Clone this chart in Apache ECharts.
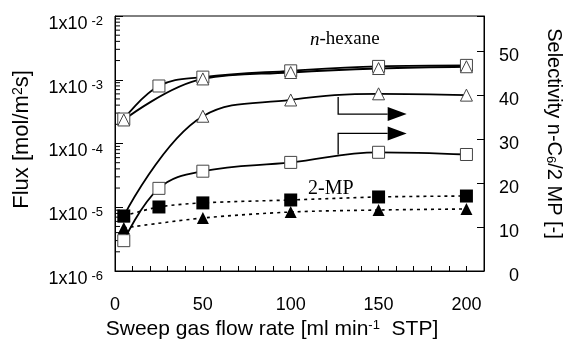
<!DOCTYPE html>
<html><head><meta charset="utf-8">
<script src="https://cdn.jsdelivr.net/npm/echarts@6/dist/echarts.min.js"></script>
<style>html,body{margin:0;padding:0;background:#fff}#c{width:571px;height:340px}</style>
</head><body><div id="c"></div>
<script>
// ---- data ----
const flowSquares   = [5, 25, 50, 100, 150, 200];
const flowTriangles = [5, 50, 100, 150, 200];
const hexFluxSq  = [2.42e-4, 7.98e-4, 1.10e-3, 1.38e-3, 1.62e-3, 1.68e-3];
const hexFluxTri = [2.34e-4, 1.03e-3, 1.30e-3, 1.50e-3, 1.60e-3];
const selectSq   = [6.9, 18.8, 22.7, 24.7, 27.0, 26.5];
const selectTri  = [12.5, 35.2, 38.9, 40.3, 40.0];
const mpFluxSq   = [7.3e-6, 1.01e-5, 1.17e-5, 1.30e-5, 1.45e-5, 1.50e-5];
const mpFluxTri  = [4.73e-6, 6.78e-6, 8.42e-6, 9.05e-6, 9.4e-6];
const xLabelTicks = [0, 50, 100, 150, 200];
const selLabelTicks = [0, 10, 20, 30, 40, 50];
const fluxMin = 1e-6, fluxMax = 1e-2;
// arrows: [x at curve, y on curve (selectivity), y of arrow, x of arrow tip]
const arrowsData = [[127, 39.6, 35.7, 166], [127, 26.5, 31.3, 166]];

const minorTickValues = [];
for (let e = -6; e < -2; e++) for (let k = 2; k <= 9; k++) minorTickValues.push([0, k * Math.pow(10, e)]);

const chart = echarts.init(document.getElementById('c'), null, {renderer: 'canvas'});
const FONT = 'Liberation Sans';

function lineSeries(xs, ys, yIdx, symbol, filled, dotted, size) {
  return {
    type: 'line', yAxisIndex: yIdx, data: xs.map((x, i) => [x, ys[i]]),
    smooth: dotted ? 0.3 : 0.4, symbol: symbol, symbolSize: size, showSymbol: true,
    lineStyle: {color: '#000', width: dotted ? 1.6 : 1.8, type: dotted ? [3, 4] : 'solid'},
    itemStyle: {color: filled ? '#000' : '#fff', borderColor: filled ? '#000' : '#444', borderWidth: filled ? 0 : 1},
    z: filled ? 4 : 3, animation: false, silent: true
  };
}

const option = {
  animation: false,
  grid: {left: 115, right: 87, top: 16, bottom: 69, containLabel: false, outerBoundsMode: 'none',
         show: true, borderColor: '#000', borderWidth: 1},
  xAxis: {
    type: 'value', min: 0, max: 210, interval: 10,
    axisLine: {lineStyle: {color: '#000'}},
    axisTick: {inside: true, length: 5, lineStyle: {color: '#000'}},
    splitLine: {show: false},
    axisLabel: {margin: 25, fontSize: 18, fontFamily: FONT, color: '#000',
      formatter: v => xLabelTicks.indexOf(v) >= 0 ? String(v) : ''},
    name: 'Sweep gas flow rate [ml min{sup|-1}  STP]', nameLocation: 'middle', nameGap: 48,
    nameTextStyle: {fontSize: 21, fontFamily: FONT, color: '#000', padding: [0, 55, 0, 0],
      rich: {sup: {fontSize: 13, fontFamily: FONT, color: '#000', verticalAlign: 'top', lineHeight: 12}}}
  },
  yAxis: [{
    type: 'log', logBase: 10, min: fluxMin, max: fluxMax,
    axisLine: {lineStyle: {color: '#000'}},
    axisTick: {inside: true, length: 8, lineStyle: {color: '#000'}},
    splitLine: {show: false},
    axisLabel: {margin: 12, color: '#000', padding: [16, 0, 0, 0],
      formatter: v => '{a|1x10}{b|' + Math.round(Math.log10(v)) + '}',
      rich: {a: {fontSize: 18, fontFamily: FONT, color: '#000', lineHeight: 18, verticalAlign: 'top'},
             b: {fontSize: 13, fontFamily: FONT, color: '#000', lineHeight: 13, verticalAlign: 'top', padding: [0, 0, 0, 4]}}},
    name: 'Flux [mol/m{sup|2}s]', nameLocation: 'middle', nameGap: 82,
    nameTextStyle: {fontSize: 22, fontFamily: FONT, color: '#000', padding: [0, 0, 0, 8],
      rich: {sup: {fontSize: 14, fontFamily: FONT, color: '#000', verticalAlign: 'top', lineHeight: 12}}}
  }, {
    type: 'value', min: 0, max: 58, interval: 10, position: 'right',
    axisLine: {show: true, lineStyle: {color: '#000'}},
    axisTick: {show: true, inside: true, length: 7, lineStyle: {color: '#000'}},
    splitLine: {show: false},
    axisLabel: {margin: 35, align: 'right', color: '#000', padding: [10, 0, 0, 0],
      formatter: v => selLabelTicks.indexOf(v) >= 0 ? '{r|' + v + '}' : '',
      rich: {r: {fontSize: 18, fontFamily: FONT, color: '#000', lineHeight: 18}}},
    name: 'Selectivity n-C{sub|6}/2 MP [-]', nameLocation: 'middle', nameGap: 60, nameRotate: -90,
    nameTextStyle: {fontSize: 20, fontFamily: FONT, color: '#000', padding: [0, 20, 0, 0],
      rich: {sub: {fontSize: 13, fontFamily: FONT, color: '#000', verticalAlign: 'bottom', lineHeight: 12}}}
  }],
  series: [
    {
      type: 'custom', yAxisIndex: 0, data: minorTickValues, encode: {x: 0, y: 1}, silent: true, clip: false,
      renderItem: (params, api) => {
        const p = api.coord([0, api.value(1)]);
        return {type: 'line', shape: {x1: p[0], y1: p[1], x2: p[0] + 5, y2: p[1]}, style: {stroke: '#000', lineWidth: 1}};
      }
    },
    lineSeries(flowSquares, hexFluxSq, 0, 'rect', false, false, 12),
    lineSeries(flowTriangles, hexFluxTri, 0, 'triangle', false, false, 12),
    lineSeries(flowTriangles, selectTri, 1, 'triangle', false, false, 12),
    lineSeries(flowSquares, selectSq, 1, 'rect', false, false, 12),
    lineSeries(flowSquares, mpFluxSq, 0, 'rect', true, true, 13),
    lineSeries(flowTriangles, mpFluxTri, 0, 'triangle', true, true, 12),
    {
      type: 'custom', yAxisIndex: 1, data: arrowsData, encode: {x: [0, 3], y: [1, 2]}, silent: true, clip: false, z: 5,
      renderItem: (params, api) => {
        const p0 = api.coord([api.value(0), api.value(1)]);
        const p1 = api.coord([api.value(0), api.value(2)]);
        const pt = api.coord([api.value(3), api.value(2)]);
        const hl = 19, hw = 7;
        return {type: 'group', children: [
          {type: 'polyline', shape: {points: [p0, p1, [pt[0] - hl, p1[1]]]}, style: {stroke: '#000', lineWidth: 1.3, fill: null}},
          {type: 'polygon', shape: {points: [[pt[0] - hl, p1[1] - hw], [pt[0], p1[1]], [pt[0] - hl, p1[1] + hw]]}, style: {fill: '#000'}}
        ]};
      }
    }
  ],
  graphic: [
    {type: 'text', left: 310, top: 30, style: {text: '{i|n}-hexane', font: '19px "Liberation Serif"', fill: '#000',
      rich: {i: {fontStyle: 'italic', fontSize: 19, fontFamily: 'Liberation Serif'}}}},
    {type: 'text', left: 308, top: 179, style: {text: '2-MP', font: '20px "Liberation Serif"', fill: '#000'}}
  ]
};
chart.setOption(option);
</script>
</body></html>
